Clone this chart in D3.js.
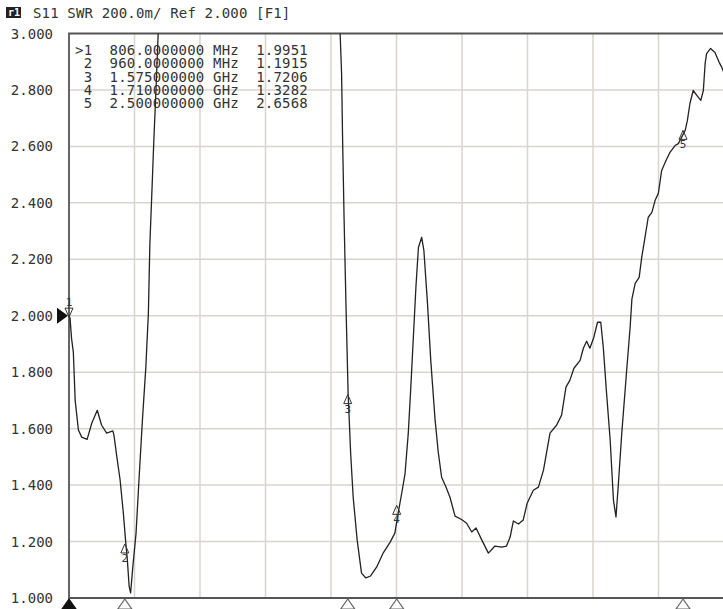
<!DOCTYPE html>
<html>
<head>
<meta charset="utf-8">
<script src="https://cdn.jsdelivr.net/npm/d3@7"></script>
<style>
  body { margin: 0; background: #fff; }
  text { font-family: "DejaVu Sans Mono", monospace; fill: #333; }
</style>
</head>
<body>
<svg id="chart" width="723" height="609"></svg>
<script>
// trace: frequency (MHz) and SWR
var freqs = [806, 809, 813, 818, 823, 832, 841, 856, 869, 884, 896, 910, 927, 930, 938, 947, 956, 962, 967, 972, 976, 982, 991, 1000, 1009, 1018, 1025, 1029, 1035, 1040, 1046, 1052,
  1071, 1167, 1305, 1443, 1540,
  1554, 1558, 1561, 1565, 1570, 1576, 1583, 1590, 1601, 1613, 1625, 1638, 1655, 1673, 1692, 1705, 1714, 1724, 1733, 1742, 1749, 1756, 1763, 1770, 1779, 1785, 1795, 1804, 1816, 1825, 1834,
  1846, 1857, 1871, 1889, 1903, 1917, 1929, 1945, 1963, 1981, 2000, 2013, 2023, 2032, 2046, 2059, 2070, 2087, 2101, 2115, 2133, 2151, 2165, 2177, 2188, 2199, 2216, 2225, 2234, 2243, 2254, 2264, 2273, 2280, 2289, 2299, 2308, 2315, 2321, 2331, 2343, 2354,
  2359, 2368, 2379, 2386, 2395, 2404, 2414, 2423, 2432, 2441, 2453, 2464, 2478, 2487, 2496, 2506, 2512, 2519, 2528, 2538, 2549, 2556, 2561, 2565, 2576, 2588, 2600, 2607, 2613];
var swr = [2.00, 1.99, 1.92, 1.87, 1.70, 1.595, 1.57, 1.562, 1.62, 1.665, 1.612, 1.584, 1.592, 1.577, 1.50, 1.418, 1.30, 1.205, 1.134, 1.04, 1.018, 1.11, 1.23, 1.44, 1.64, 1.818, 2.01, 2.25, 2.45, 2.62, 2.80, 3.0,
  3.6, 4.5, 5.0, 4.5, 3.6,
  3.0, 2.858, 2.61, 2.338, 2.044, 1.726, 1.513, 1.357, 1.205, 1.088, 1.071, 1.078, 1.11, 1.16, 1.198, 1.23, 1.30, 1.372, 1.44, 1.584, 1.747, 1.924, 2.10, 2.242, 2.278, 2.232, 2.044, 1.842, 1.63, 1.513, 1.428,
  1.393, 1.357, 1.29, 1.278, 1.265, 1.234, 1.248, 1.205, 1.159, 1.184, 1.18, 1.184, 1.216, 1.273, 1.262, 1.276, 1.336, 1.382, 1.393, 1.453, 1.584, 1.612, 1.648, 1.747, 1.772, 1.814, 1.842, 1.885, 1.91, 1.885, 1.924, 1.977, 1.977, 1.888, 1.726, 1.559, 1.347, 1.287, 1.393, 1.584, 1.782, 1.959,
  2.06, 2.115, 2.136, 2.207, 2.278, 2.349, 2.366, 2.409, 2.434, 2.515, 2.55, 2.579, 2.603, 2.61, 2.632, 2.657, 2.692, 2.752, 2.798, 2.781, 2.763, 2.798, 2.894, 2.929, 2.947, 2.933, 2.897, 2.88, 2.86];

// markers
var markerIds = [1, 2, 3, 4, 5];
var markerFreqs = [806, 960, 1575, 1710, 2500];
var markerFreqText = ['806.0000000', '960.0000000', '1.575000000', '1.710000000', '2.500000000'];
var markerUnits = ['MHz', 'MHz', 'GHz', 'GHz', 'GHz'];
var markerValues = [1.9951, 1.1915, 1.7206, 1.3282, 2.6568];
var activeMarker = 1;

var yTicks = [1.0, 1.2, 1.4, 1.6, 1.8, 2.0, 2.2, 2.4, 2.6, 2.8, 3.0];
var title = 'S11 SWR 200.0m/ Ref 2.000 [F1]';
var refValue = 2.0;

var svg = d3.select('#chart'),
    pL = 69, pR = 724, pT = 33.5, pB = 598;

var x = d3.scaleLinear().domain([806, 2613]).range([pL, pR]);
var y = d3.scaleLinear().domain([1, 3]).range([pB, pT]);
var div = d3.scaleLinear().domain([0, 10]).range([pL, pR]);

// grid
svg.append('g')
    .selectAll('line')
    .data(d3.range(1, 11))
    .enter()
    .append('line')
    .attr('x1', d => div(d)).attr('x2', d => div(d))
    .attr('y1', pT).attr('y2', pB)
    .attr('stroke', '#d8d4cf').attr('stroke-width', 1.5);

svg.append('g')
    .selectAll('line')
    .data(yTicks.slice(1, -1))
    .enter()
    .append('line')
    .attr('x1', pL).attr('x2', pR)
    .attr('y1', d => y(d)).attr('y2', d => y(d))
    .attr('stroke', '#d8d4cf').attr('stroke-width', 1.5);

// frame
svg.append('path')
    .attr('d', 'M' + pR + ',' + pT + 'H' + pL + 'V' + pB + 'H' + pR)
    .attr('fill', 'none').attr('stroke', '#555').attr('stroke-width', 1.8);

// y labels
svg.append('g')
    .selectAll('text')
    .data(yTicks)
    .enter()
    .append('text')
    .attr('x', 53).attr('y', d => y(d)).attr('dy', '0.36em')
    .attr('text-anchor', 'end')
    .style('font-size', '14px')
    .text(d => d.toFixed(3));

// title
svg.append('rect').attr('x', 6).attr('y', 7).attr('width', 15).attr('height', 11).attr('fill', '#222');
svg.append('text').attr('x', 8).attr('y', 16).style('font-size', '10px').style('font-weight', 'bold')
    .style('fill', '#fff').text('r1');
svg.append('text').attr('x', 33).attr('y', 18).style('font-size', '14px').style('letter-spacing', '0.15px')
    .style('white-space', 'pre').text(title);

// trace
svg.append('clipPath').attr('id', 'plot')
    .append('rect').attr('x', pL).attr('y', pT).attr('width', pR - pL).attr('height', pB - pT);

var line = d3.line()
    .x((d, i) => x(freqs[i]))
    .y(d => y(d));

svg.append('path')
    .attr('clip-path', 'url(#plot)')
    .attr('d', line(swr))
    .attr('fill', 'none')
    .attr('stroke', '#222')
    .attr('stroke-width', 1.3)
    .attr('stroke-linejoin', 'round');

// marker table
svg.append('g')
    .selectAll('text')
    .data(markerIds)
    .enter()
    .append('text')
    .attr('x', 75)
    .attr('y', (d, i) => 55 + i * 13.3)
    .style('font-size', '14px')
    .style('letter-spacing', '0.2px')
    .style('white-space', 'pre')
    .text((d, i) => (d === activeMarker ? '>' : ' ') + d + '  ' + markerFreqText[i] + ' ' + markerUnits[i] + '  ' + markerValues[i].toFixed(4));

// markers on trace
var mk = svg.append('g').selectAll('g')
    .data(markerIds)
    .enter()
    .append('g')
    .attr('transform', (d, i) => 'translate(' + x(markerFreqs[i]) + ',' + y(markerValues[i]) + ')');

mk.append('path')
    .attr('d', d => d === activeMarker ? 'M0,0L-4,-9H4Z' : 'M0,0L-4,9H4Z')
    .attr('fill', 'none').attr('stroke', '#333').attr('stroke-width', 1);

mk.append('text')
    .attr('x', 0)
    .attr('y', d => d === activeMarker ? -11 : 18)
    .attr('text-anchor', 'middle')
    .style('font-size', '11px')
    .text(d => d);

// marker flags under the axis
svg.append('g')
    .selectAll('path')
    .data(markerIds)
    .enter()
    .append('path')
    .attr('d', (d, i) => {
        var cx = x(markerFreqs[i]);
        return 'M' + cx + ',' + (pB + 1) + 'L' + (cx - 7) + ',' + (pB + 11) + 'H' + (cx + 7) + 'Z';
    })
    .attr('fill', d => d === activeMarker ? '#111' : '#fff')
    .attr('stroke', d => d === activeMarker ? '#111' : '#666')
    .attr('stroke-width', 1.2);

// reference level arrow
svg.append('path')
    .attr('d', 'M' + (pL - 1) + ',' + y(refValue) + 'L' + (pL - 12) + ',' + (y(refValue) - 8) + 'V' + (y(refValue) + 8) + 'Z')
    .attr('fill', '#111');
</script>
</body>
</html>
